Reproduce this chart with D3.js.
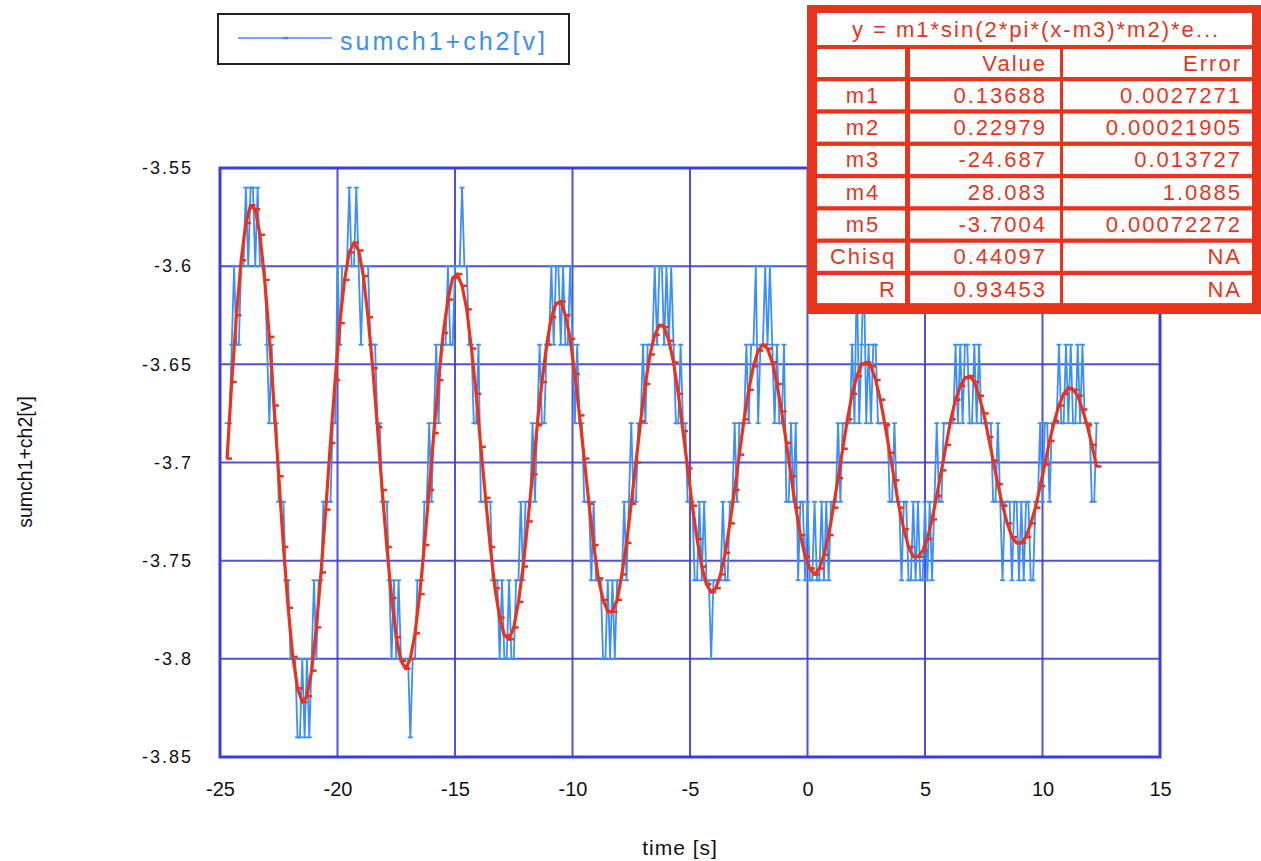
<!DOCTYPE html>
<html>
<head>
<meta charset="utf-8">
<script src="https://cdn.jsdelivr.net/npm/d3@7"></script>
<style>
  body { margin: 0; background: #fff; }
  svg { display: block; font-family: "Liberation Sans", Arial, sans-serif; }
</style>
</head>
<body>
<div id="chart"></div>
<script>
// axis ticks
const xTicks = [-25, -20, -15, -10, -5, 0, 5, 10, 15];
const yTicks = [-3.55, -3.6, -3.65, -3.7, -3.75, -3.8, -3.85];

// sample times: first sample and spacing (s)
const tStart = -24.7;
const dtSum = 0.1;
const dtFit = 0.2;

// measured signal sumch1+ch2 [v], one value every 0.1 s
const sumch = [
  -3.68,-3.68,-3.64,-3.6,-3.64,-3.64,-3.6,-3.6,-3.56,-3.6,
  -3.56,-3.56,-3.6,-3.56,-3.6,-3.6,-3.6,-3.64,-3.68,-3.64,
  -3.68,-3.68,-3.72,-3.72,-3.72,-3.76,-3.76,-3.8,-3.8,-3.8,
  -3.84,-3.84,-3.8,-3.84,-3.8,-3.84,-3.8,-3.76,-3.8,-3.76,
  -3.76,-3.72,-3.72,-3.72,-3.72,-3.68,-3.68,-3.6,-3.64,-3.6,
  -3.6,-3.6,-3.56,-3.6,-3.6,-3.56,-3.6,-3.64,-3.6,-3.6,
  -3.6,-3.64,-3.64,-3.64,-3.68,-3.68,-3.72,-3.72,-3.72,-3.76,
  -3.8,-3.76,-3.8,-3.76,-3.8,-3.8,-3.8,-3.8,-3.84,-3.8,
  -3.8,-3.76,-3.76,-3.76,-3.72,-3.72,-3.68,-3.72,-3.68,-3.64,
  -3.68,-3.64,-3.64,-3.64,-3.6,-3.64,-3.64,-3.6,-3.6,-3.6,
  -3.56,-3.6,-3.6,-3.64,-3.64,-3.68,-3.68,-3.64,-3.72,-3.72,
  -3.72,-3.72,-3.72,-3.76,-3.76,-3.76,-3.8,-3.76,-3.8,-3.8,
  -3.76,-3.8,-3.8,-3.76,-3.76,-3.72,-3.76,-3.72,-3.72,-3.72,
  -3.68,-3.72,-3.68,-3.64,-3.68,-3.68,-3.64,-3.64,-3.6,-3.64,
  -3.6,-3.6,-3.64,-3.6,-3.64,-3.64,-3.6,-3.64,-3.68,-3.64,
  -3.68,-3.68,-3.72,-3.72,-3.72,-3.76,-3.72,-3.76,-3.76,-3.76,
  -3.8,-3.8,-3.76,-3.8,-3.76,-3.8,-3.76,-3.76,-3.76,-3.72,
  -3.76,-3.72,-3.68,-3.72,-3.72,-3.68,-3.68,-3.64,-3.68,-3.64,
  -3.64,-3.64,-3.6,-3.64,-3.6,-3.6,-3.64,-3.6,-3.64,-3.6,
  -3.64,-3.68,-3.68,-3.64,-3.68,-3.68,-3.72,-3.72,-3.72,-3.76,
  -3.76,-3.72,-3.76,-3.72,-3.76,-3.76,-3.8,-3.76,-3.76,-3.76,
  -3.76,-3.72,-3.76,-3.76,-3.72,-3.72,-3.68,-3.72,-3.68,-3.68,
  -3.68,-3.64,-3.68,-3.64,-3.64,-3.6,-3.68,-3.64,-3.64,-3.6,
  -3.64,-3.6,-3.64,-3.68,-3.64,-3.68,-3.68,-3.64,-3.72,-3.72,
  -3.68,-3.72,-3.68,-3.76,-3.72,-3.72,-3.76,-3.72,-3.76,-3.76,
  -3.72,-3.76,-3.76,-3.72,-3.76,-3.72,-3.76,-3.72,-3.72,-3.72,
  -3.68,-3.72,-3.68,-3.68,-3.68,-3.68,-3.64,-3.68,-3.6,-3.68,
  -3.64,-3.6,-3.68,-3.64,-3.68,-3.64,-3.64,-3.68,-3.68,-3.68,
  -3.68,-3.68,-3.72,-3.72,-3.68,-3.72,-3.72,-3.76,-3.72,-3.72,
  -3.76,-3.76,-3.72,-3.76,-3.72,-3.76,-3.76,-3.72,-3.76,-3.72,
  -3.76,-3.72,-3.68,-3.72,-3.72,-3.68,-3.68,-3.68,-3.68,-3.68,
  -3.64,-3.68,-3.64,-3.68,-3.64,-3.64,-3.68,-3.68,-3.64,-3.68,
  -3.64,-3.68,-3.68,-3.68,-3.68,-3.68,-3.72,-3.72,-3.68,-3.72,
  -3.76,-3.72,-3.72,-3.72,-3.76,-3.72,-3.72,-3.76,-3.72,-3.76,
  -3.72,-3.72,-3.76,-3.76,-3.72,-3.72,-3.68,-3.72,-3.68,-3.68,
  -3.72,-3.68,-3.68,-3.68,-3.64,-3.68,-3.68,-3.64,-3.68,-3.64,
  -3.68,-3.68,-3.64,-3.68,-3.64,-3.68,-3.68,-3.68,-3.72,-3.72,-3.68
];

// fitted curve [v], one value every 0.2 s
const fitCurve = [
  -3.698,-3.659,-3.625,-3.597,-3.578,-3.569,-3.571,-3.584,-3.607,-3.636,
  -3.671,-3.707,-3.743,-3.774,-3.799,-3.815,-3.822,-3.819,-3.806,-3.784,
  -3.756,-3.724,-3.690,-3.658,-3.629,-3.607,-3.593,-3.588,-3.592,-3.605,
  -3.626,-3.652,-3.682,-3.714,-3.743,-3.769,-3.789,-3.801,-3.805,-3.800,
  -3.787,-3.767,-3.742,-3.714,-3.685,-3.658,-3.634,-3.617,-3.606,-3.604,
  -3.610,-3.622,-3.642,-3.665,-3.692,-3.718,-3.743,-3.764,-3.779,-3.788,
  -3.790,-3.784,-3.771,-3.753,-3.730,-3.706,-3.681,-3.659,-3.640,-3.626,
  -3.619,-3.618,-3.625,-3.637,-3.655,-3.676,-3.698,-3.721,-3.742,-3.759,
  -3.770,-3.776,-3.776,-3.770,-3.757,-3.741,-3.721,-3.700,-3.679,-3.660,
  -3.645,-3.635,-3.630,-3.631,-3.638,-3.649,-3.665,-3.684,-3.703,-3.722,
  -3.739,-3.753,-3.762,-3.766,-3.764,-3.757,-3.746,-3.731,-3.714,-3.696,
  -3.678,-3.663,-3.651,-3.643,-3.640,-3.642,-3.649,-3.660,-3.674,-3.690,
  -3.707,-3.723,-3.737,-3.748,-3.754,-3.757,-3.754,-3.747,-3.737,-3.723,
  -3.708,-3.693,-3.678,-3.665,-3.656,-3.650,-3.649,-3.651,-3.658,-3.668,
  -3.681,-3.695,-3.709,-3.723,-3.734,-3.743,-3.748,-3.748,-3.745,-3.739,
  -3.729,-3.717,-3.704,-3.691,-3.678,-3.668,-3.661,-3.657,-3.656,-3.659,
  -3.666,-3.675,-3.687,-3.699,-3.711,-3.722,-3.731,-3.738,-3.741,-3.741,
  -3.738,-3.731,-3.723,-3.712,-3.701,-3.689,-3.679,-3.671,-3.665,-3.662,
  -3.663,-3.666,-3.673,-3.681,-3.691,-3.702
];

// fit results table
const fitTitle = "y = m1*sin(2*pi*(x-m3)*m2)*e...";
const fitNames = ["m1", "m2", "m3", "m4", "m5", "Chisq", "R"];
const fitValues = ["0.13688", "0.22979", "-24.687", "28.083", "-3.7004", "0.44097", "0.93453"];
const fitErrors = ["0.0027271", "0.00021905", "0.013727", "1.0885", "0.00072272", "NA", "NA"];

const seriesName = "sumch1+ch2[v]";

// colours
const gridBlue = "#3a3edd";
const sigBlue = "#3d8ef5";
const fitRed = "#e8341c";

const svg = d3.select("#chart").append("svg")
  .attr("width", 1261)
  .attr("height", 861);

// plot area
const plot = {left: 220, right: 1160, top: 168, bottom: 757};

const x = d3.scaleLinear()
  .domain([xTicks[0], xTicks[xTicks.length - 1]])
  .range([plot.left, plot.right]);
const y = d3.scaleLinear()
  .domain([yTicks[yTicks.length - 1], yTicks[0]])
  .range([plot.bottom, plot.top]);

// grid lines
const grid = svg.append("g");
grid.selectAll("line.gx")
  .data(xTicks.slice(1, -1))
  .join("line")
  .attr("class", "gx")
  .attr("x1", d => x(d)).attr("x2", d => x(d))
  .attr("y1", plot.top).attr("y2", plot.bottom)
  .attr("stroke", gridBlue).attr("stroke-width", 2).attr("opacity", 0.9);
grid.selectAll("line.gy")
  .data(yTicks.slice(1, -1))
  .join("line")
  .attr("class", "gy")
  .attr("x1", plot.left).attr("x2", plot.right)
  .attr("y1", d => y(d)).attr("y2", d => y(d))
  .attr("stroke", gridBlue).attr("stroke-width", 2).attr("opacity", 0.9);

// axes (labels only, the frame is drawn as a rect)
const yAxis = svg.append("g")
  .attr("transform", `translate(${plot.left},0)`)
  .call(d3.axisLeft(y).tickValues(yTicks).tickSize(0).tickPadding(27).tickFormat(d => String(d)));
yAxis.select(".domain").remove();
yAxis.attr("font-family", null);
yAxis.selectAll("text")
  .attr("font-size", 18)
  .attr("letter-spacing", "2px")
  .attr("fill", "#111");

const xAxis = svg.append("g")
  .attr("transform", `translate(0,${plot.bottom})`)
  .call(d3.axisBottom(x).tickValues(xTicks).tickSize(0).tickPadding(25).tickFormat(d => String(d)));
xAxis.select(".domain").remove();
xAxis.attr("font-family", null);
xAxis.selectAll("text")
  .attr("font-size", 20)
  .attr("fill", "#111");

// axis titles
svg.append("text")
  .attr("x", 680).attr("y", 855)
  .attr("text-anchor", "middle")
  .attr("font-size", 21)
  .attr("letter-spacing", "1px")
  .attr("fill", "#111")
  .text("time [s]");

svg.append("text")
  .attr("transform", "translate(32,462) rotate(-90)")
  .attr("text-anchor", "middle")
  .attr("font-size", 19.5)
  .attr("fill", "#111")
  .text(seriesName);

// measured signal
const sumLine = d3.line()
  .x((d, i) => x(tStart + i * dtSum))
  .y(d => y(d));

svg.append("path")
  .datum(sumch)
  .attr("d", sumLine)
  .attr("fill", "none")
  .attr("stroke", sigBlue)
  .attr("stroke-width", 1.8)
  .attr("stroke-linejoin", "round");

svg.append("g").selectAll("line")
  .data(sumch)
  .join("line")
  .attr("x1", (d, i) => x(tStart + i * dtSum) - 2.5)
  .attr("x2", (d, i) => x(tStart + i * dtSum) + 2.5)
  .attr("y1", d => y(d)).attr("y2", d => y(d))
  .attr("stroke", sigBlue).attr("stroke-width", 1.8);

// fitted curve
const fitLine = d3.line()
  .x((d, i) => x(tStart + i * dtFit))
  .y(d => y(d));

svg.append("path")
  .datum(fitCurve)
  .attr("d", fitLine)
  .attr("fill", "none")
  .attr("stroke", fitRed)
  .attr("stroke-width", 3.2)
  .attr("stroke-linejoin", "round");

svg.append("g").selectAll("line")
  .data(fitCurve)
  .join("line")
  .attr("x1", (d, i) => x(tStart + i * dtFit) - 1)
  .attr("x2", (d, i) => x(tStart + i * dtFit) + 5)
  .attr("y1", d => y(d)).attr("y2", d => y(d))
  .attr("stroke", fitRed).attr("stroke-width", 2.5);

// plot frame
svg.append("rect")
  .attr("x", plot.left).attr("y", plot.top)
  .attr("width", plot.right - plot.left)
  .attr("height", plot.bottom - plot.top)
  .attr("fill", "none")
  .attr("stroke", gridBlue)
  .attr("stroke-width", 3);

// legend
const legend = svg.append("g");
legend.append("rect")
  .attr("x", 218).attr("y", 14)
  .attr("width", 351).attr("height", 50)
  .attr("fill", "#fff")
  .attr("stroke", "#222")
  .attr("stroke-width", 2);
legend.append("line")
  .attr("x1", 238).attr("x2", 332)
  .attr("y1", 38).attr("y2", 38)
  .attr("stroke", sigBlue).attr("stroke-width", 1.5);
legend.append("line")
  .attr("x1", 283).attr("x2", 288)
  .attr("y1", 38).attr("y2", 38)
  .attr("stroke", sigBlue).attr("stroke-width", 2.5);
legend.append("text")
  .attr("x", 340).attr("y", 50)
  .attr("font-size", 25)
  .attr("letter-spacing", "3px")
  .attr("fill", sigBlue)
  .text(seriesName);

// fit results table
const table = svg.append("g");
table.append("rect")
  .attr("x", 807).attr("y", 5)
  .attr("width", 460).attr("height", 309)
  .attr("fill", fitRed);
table.append("rect")
  .attr("x", 817).attr("y", 13)
  .attr("width", 435).attr("height", 32)
  .attr("fill", "#fff");
table.append("text")
  .attr("x", 1036).attr("y", 37)
  .attr("text-anchor", "middle")
  .attr("font-size", 22)
  .attr("letter-spacing", "2px")
  .attr("fill", fitRed)
  .text(fitTitle);

const cols = [{x: 817, w: 88}, {x: 910, w: 150}, {x: 1063, w: 189}];
const rows = [["", "Value", "Error"]].concat(fitNames.map((n, i) => [n, fitValues[i], fitErrors[i]]));
const rowTop = r => 49 + r * 32.3;

const rowG = table.selectAll("g.row")
  .data(rows)
  .join("g")
  .attr("class", "row")
  .attr("transform", (d, r) => `translate(0,${rowTop(r)})`);

rowG.selectAll("rect")
  .data(cols)
  .join("rect")
  .attr("x", c => c.x).attr("y", 0)
  .attr("width", c => c.w).attr("height", 28)
  .attr("fill", "#fff");

rowG.selectAll("text")
  .data(d => d.map((txt, c) => ({txt, c})))
  .join("text")
  .attr("x", d => d.c === 0 ? (d.txt === "R" ? 897 : 863) : (d.c === 1 ? 1047 : 1242))
  .attr("y", 21.5)
  .attr("text-anchor", d => d.c === 0 && d.txt !== "R" ? "middle" : "end")
  .attr("font-size", 22)
  .attr("letter-spacing", "2px")
  .attr("fill", fitRed)
  .text(d => d.txt);
</script>
</body>
</html>
